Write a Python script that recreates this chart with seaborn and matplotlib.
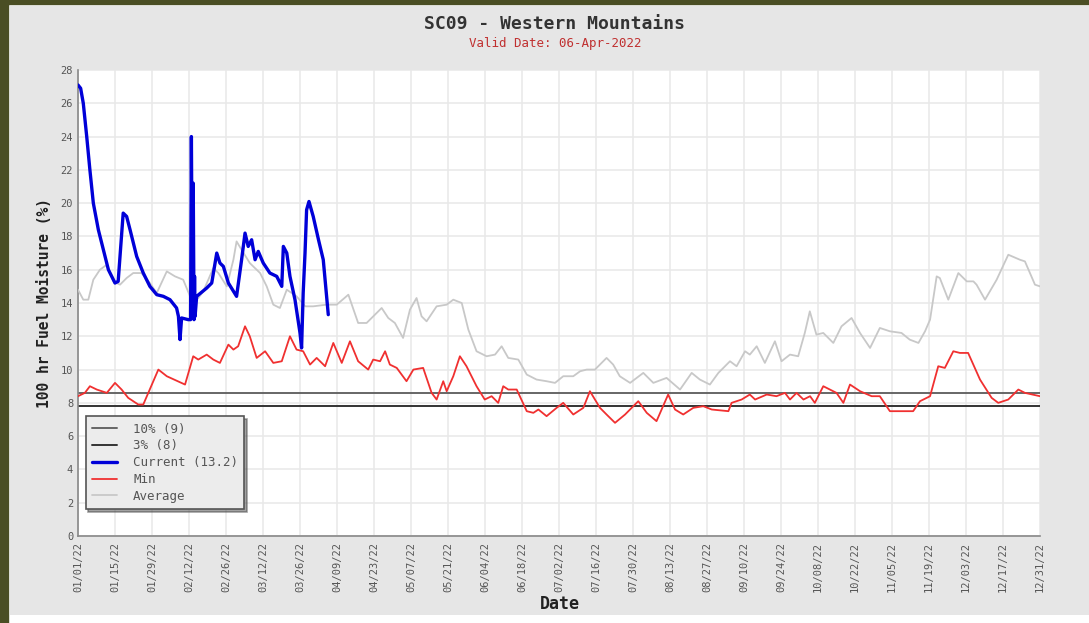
import pandas as pd
import matplotlib
matplotlib.use('Agg')
import matplotlib.pyplot as plt
import matplotlib.dates as mdates
from matplotlib.patches import Rectangle
import seaborn as sns

# days since 01/01/22 and 100 hr fuel moisture (%)
current_day = [0, 1, 2, 3.3, 4.5, 5.8, 7.7, 9.6, 11.5, 14, 15.2, 17.1, 18.4, 19.7, 22.2,
               24.7, 27.2, 29.8, 32.3, 34.8, 37.3, 38.0, 38.6, 39.2, 41.7, 42.6, 42.9,
               43.3, 43.6, 43.9, 44.1, 44.3, 44.9, 48.7, 50.6, 52.5, 53.7, 55, 56.9, 60,
               61.9, 63.2, 64.4, 65.7, 67, 68.2, 70.1, 72.6, 75.2, 77.1, 77.7, 79, 80.2,
               82.1, 84, 84.6, 85.2, 85.9, 86.5, 87.4, 89, 91, 92.8, 94.7]
current_val = [27.1, 26.9, 26.0, 24.0, 22.0, 20.0, 18.4, 17.2, 16.0, 15.2, 15.3, 19.4, 19.2,
               18.4, 16.8, 15.8, 15.0, 14.5, 14.4, 14.2, 13.7, 13.2, 11.8, 13.1, 13.0, 13.0,
               24.0, 13.2, 21.2, 13.0, 15.6, 13.2, 14.4, 14.9, 15.2, 17.0, 16.4, 16.2, 15.2,
               14.4, 16.6, 18.2, 17.4, 17.8, 16.6, 17.1, 16.4, 15.8, 15.6, 15.0, 17.4, 17.0,
               15.6, 14.2, 12.2, 11.3, 14.6, 17.0, 19.6, 20.1, 19.2, 17.8, 16.6, 13.3]

avg_day = [0, 2, 3.9, 5.8, 8.3, 10.9, 13.4, 15.9, 18.4, 20.9, 24, 27.2, 29.8, 33.6, 36.7,
           39.8, 42.4, 45.5, 47.4, 51.2, 53.1, 56.3, 58.8, 60, 61.9, 65, 68.9, 71.4, 73.9,
           76.4, 79, 82.7, 86, 89, 94, 97.9, 102.3, 106, 109.2, 114.9, 117.4, 119.9, 123,
           125.6, 128.1, 130, 131.9, 135.7, 139.5, 142, 145.2, 147.7, 150.8, 154.6, 157.8,
           160.3, 162.8, 166.6, 169.8, 173.5, 177.3, 180.5, 183.6, 187.4, 190, 192.5, 195.6,
           200, 202.5, 205, 208.9, 213.9, 217.7, 222.7, 227.8, 232.2, 235.3, 239.1, 242.3,
           246.7, 249.2, 252.4, 254.2, 256.8, 259.9, 263.7, 266.2, 269.4, 272.5, 275, 276.9,
           279.4, 282, 285.8, 288.9, 292.7, 295.9, 299.7, 303.4, 307.2, 311.6, 314.7, 318,
           320.5, 322.4, 324.9, 326.1, 329.3, 333.1, 336.3, 338.8, 340, 343.2, 347.6, 352,
           356.4, 358.3, 362.1, 364]
avg_val = [14.8, 14.2, 14.2, 15.4, 16.0, 16.3, 15.3, 15.1, 15.5, 15.8, 15.8, 15.2, 14.6, 15.9,
           15.6, 15.4, 14.4, 14.3, 14.7, 16.1, 15.8, 15.0, 16.6, 17.7, 17.2, 16.4, 15.8, 15.0,
           13.9, 13.7, 14.8, 14.4, 13.8, 13.8, 13.9, 13.9, 14.5, 12.8, 12.8, 13.7, 13.1, 12.8,
           11.9, 13.6, 14.3, 13.2, 12.9, 13.8, 13.9, 14.2, 14.0, 12.4, 11.1, 10.8, 10.9, 11.4,
           10.7, 10.6, 9.7, 9.4, 9.3, 9.2, 9.6, 9.6, 9.9, 10.0, 10.0, 10.7, 10.3, 9.6, 9.2,
           9.8, 9.2, 9.5, 8.8, 9.8, 9.4, 9.1, 9.8, 10.5, 10.2, 11.1, 10.9, 11.4, 10.4, 11.7,
           10.5, 10.9, 10.8, 12.2, 13.5, 12.1, 12.2, 11.6, 12.6, 13.1, 12.2, 11.3, 12.5, 12.3,
           12.2, 11.8, 11.6, 12.3, 13.0, 15.6, 15.5, 14.2, 15.8, 15.3, 15.3, 15.1, 14.2, 15.4,
           16.9, 16.6, 16.5, 15.1, 15.0]

min_day = [0, 2.6, 4.5, 7.1, 10.9, 14, 16.5, 19, 22.8, 24.7, 30.4, 33.6, 40.5, 43.6, 45.5,
           48.7, 51.2, 53.7, 56.9, 58.8, 60.6, 63.2, 65, 67.6, 70.8, 73.9, 77.1, 80.2, 82.7,
           85.2, 87.8, 90.3, 93.5, 96.6, 99.8, 102.9, 106, 109.8, 111.7, 114.3, 116.2, 118,
           120.6, 124.3, 126.9, 130.6, 133.8, 135.7, 138.2, 139.5, 142, 144.5, 147, 150.8,
           153.9, 156.5, 159, 160.9, 162.8, 166, 169.8, 172.3, 174.2, 177.3, 181.1, 183.6,
           187.4, 191.2, 193.7, 197.5, 200, 203.2, 207, 212, 215.2, 218.9, 223.3, 225.9, 229,
           232.8, 236.6, 239.8, 246.1, 247.3, 251.1, 254.2, 256.2, 260.6, 264.3, 267.5, 269.4,
           271.9, 274.5, 277, 278.8, 282, 287, 289.6, 292.1, 295.9, 300.3, 303.4, 307.2, 316,
           318.6, 322.4, 325.5, 328, 331.2, 333.7, 336.8, 341.3, 345.7, 348.2, 352, 355.8,
           358.3, 364]
min_val = [8.4, 8.6, 9.0, 8.8, 8.6, 9.2, 8.8, 8.3, 7.9, 7.9, 10.0, 9.6, 9.1, 10.8, 10.6, 10.9,
           10.6, 10.4, 11.5, 11.2, 11.4, 12.6, 12.0, 10.7, 11.1, 10.4, 10.5, 12.0, 11.2, 11.1,
           10.3, 10.7, 10.2, 11.6, 10.4, 11.7, 10.5, 10.0, 10.6, 10.5, 11.1, 10.3, 10.1, 9.3,
           10.0, 10.1, 8.6, 8.2, 9.3, 8.7, 9.6, 10.8, 10.2, 9.0, 8.2, 8.4, 8.0, 9.0, 8.8, 8.8,
           7.5, 7.4, 7.6, 7.2, 7.7, 8.0, 7.3, 7.7, 8.7, 7.7, 7.3, 6.8, 7.3, 8.1, 7.4, 6.9, 8.5,
           7.6, 7.3, 7.7, 7.8, 7.6, 7.5, 8.0, 8.2, 8.5, 8.2, 8.5, 8.4, 8.6, 8.2, 8.6, 8.2, 8.4,
           8.0, 9.0, 8.6, 8.0, 9.1, 8.7, 8.4, 8.4, 7.5, 7.5, 8.1, 8.4, 10.2, 10.1, 11.1, 11.0,
           11.0, 9.4, 8.3, 8.0, 8.2, 8.8, 8.6, 8.4]

pct10 = 8.6
pct3 = 7.8
start = pd.Timestamp('2022-01-01')
end = pd.Timestamp('2022-12-31')

def to_dates(days):
    return start + pd.to_timedelta(days, unit='D')

sns.set_theme(style='white')
plt.rcParams['font.family'] = ['DejaVu Sans Mono']

fig = plt.figure(figsize=(10.89, 6.23), dpi=100, facecolor='white')
W, H = 1089, 623
# olive frame and grey panel, kept behind the axes
fig.patches.append(Rectangle((0, 0), 8 / W, 1, transform=fig.transFigure, color='#4a4e24', zorder=-10))
fig.patches.append(Rectangle((0, 1 - 4 / H), 1, 4 / H, transform=fig.transFigure, color='#4a4e24', zorder=-10))
fig.patches.append(Rectangle((10 / W, 8 / H), 1 - 10 / W, 1 - 14 / H, transform=fig.transFigure,
                             facecolor='#e6e6e6', edgecolor='none', zorder=-10))

ax = fig.add_axes([78 / W, 1 - 536 / H, 962 / W, 466 / H])
ax.set_facecolor('white')

ax.axhline(pct10, color='#666666', lw=1.4, label='10% (9)', zorder=2)
ax.axhline(pct3, color='#333333', lw=1.4, label='3% (8)', zorder=2)
sns.lineplot(x=to_dates(avg_day), y=avg_val, ax=ax, color='#c8c8c8', lw=1.3,
             label='Average', sort=False, estimator=None, zorder=3)
sns.lineplot(x=to_dates(min_day), y=min_val, ax=ax, color='#f03030', lw=1.3,
             label='Min', sort=False, estimator=None, zorder=4)
sns.lineplot(x=to_dates(current_day), y=current_val, ax=ax, color='#0000d8', lw=2.4,
             label='Current (13.2)', sort=False, estimator=None, zorder=5)

ax.set_xlim(start, end)
ax.set_ylim(0, 28)
tick_dates = pd.date_range(start, end, freq='14D')
ax.set_xticks(tick_dates)
ax.xaxis.set_major_formatter(mdates.DateFormatter('%m/%d/%y'))
ax.set_xticks(pd.date_range(start, end, freq='7D'), minor=True)
ax.set_yticks(range(0, 29, 2))
ax.set_yticks(range(1, 28, 2), minor=True)
ax.grid(True, which='major', color='#e8e8e8', lw=1.1)
ax.tick_params(axis='both', which='both', direction='in', colors='#888888',
               labelcolor='#555555', labelsize=7.5)
ax.tick_params(which='major', length=5)
ax.tick_params(which='minor', length=3)
ax.tick_params(axis='x', labelrotation=90, pad=4)
for s in ['top', 'right']:
    ax.spines[s].set_visible(False)
for s in ['left', 'bottom']:
    ax.spines[s].set_color('#888888')
    ax.spines[s].set_linewidth(1.2)

ax.set_xlabel('')
ax.set_ylabel('100 hr Fuel Moisture (%)', fontsize=10.5, fontweight='bold', color='#222222', labelpad=6)
fig.text(560 / W, 1 - 604 / H, 'Date', ha='center', va='center', fontsize=12,
         fontweight='bold', color='#222222')

fig.text(555 / W, 1 - 24 / H, 'SC09 - Western Mountains', ha='center', va='center',
         fontsize=13, fontweight='bold', color='#333333')
fig.text(555 / W, 1 - 44 / H, 'Valid Date: 06-Apr-2022', ha='center', va='center',
         fontsize=9, color='#c03030')

handles, labels = ax.get_legend_handles_labels()
order = ['10% (9)', '3% (8)', 'Current (13.2)', 'Min', 'Average']
h = [handles[labels.index(o)] for o in order]
leg = ax.legend(h, order, loc='lower left', bbox_to_anchor=(0.008, 0.058), borderaxespad=0,
                fontsize=9, frameon=True, fancybox=False, shadow=True, facecolor='#ececec',
                edgecolor='#555555', handlelength=2.0, handletextpad=1.3,
                labelspacing=0.3, borderpad=0.5, labelcolor='#555555')
leg.get_frame().set_linewidth(1.2)

plt.savefig('out.png', dpi=100, facecolor=fig.get_facecolor())
